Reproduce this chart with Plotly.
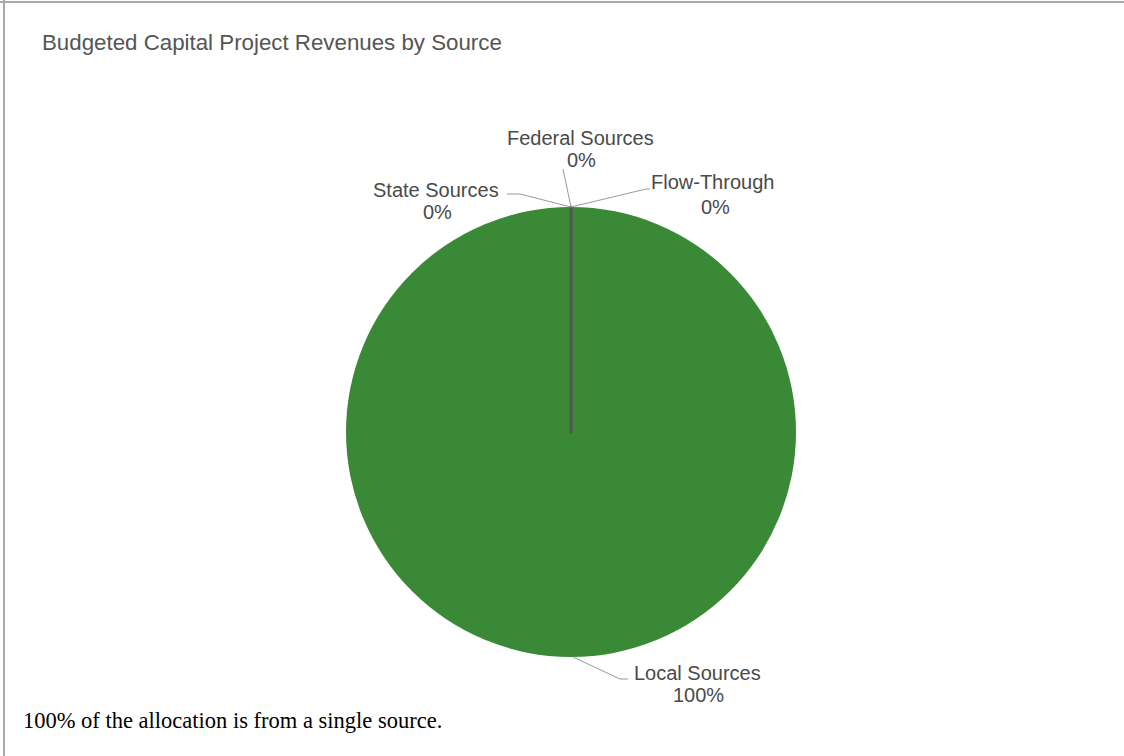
import plotly.graph_objects as go

# Revenue sources and their budgeted shares (percent)
sources = ["Local Sources", "State Sources", "Federal Sources", "Flow-Through"]
shares = [100, 0, 0, 0]
pct_labels = ["100%", "0%", "0%", "0%"]

title_text = "Budgeted Capital Project Revenues by Source"
footer_text = "100% of the allocation is from a single source."

W, H = 1124, 756
GREEN = "#3a8937"
LABEL_GRAY = "#4a4a4a"
LEADER_GRAY = "#9a9a9a"
SANS = "Liberation Sans, Arial, sans-serif"


def px(x, y):
    """Pixel position (from top-left) -> paper coordinates (margins are zero)."""
    return x / W, 1 - y / H


# pie occupies a 450 px square centred at (571, 432)
cx, cy, r = 571, 432, 225
x0, y0 = px(cx - r, cy + r)
x1, y1 = px(cx + r, cy - r)

fig = go.Figure(
    go.Pie(
        labels=sources,
        values=shares,
        sort=False,
        direction="clockwise",
        rotation=0,
        textinfo="none",
        hoverinfo="label+percent",
        marker=dict(
            colors=[GREEN, "#d9d9d9", "#d9d9d9", "#d9d9d9"],
            line=dict(color=[GREEN, "#555555", "#555555", "#555555"], width=[0, 2.5, 2.5, 2.5]),
        ),
        showlegend=False,
        domain=dict(x=[x0, x1], y=[y0, y1]),
    )
)

# label placement: (name centre, percent centre) in pixels
label_pos = {
    "Local Sources": ((697, 673), (698, 695)),
    "State Sources": ((436, 190), (437, 212)),
    "Federal Sources": ((580, 138), (581, 160)),
    "Flow-Through": ((712, 182), (715, 207)),
}

# leader line polylines in pixels
leaders = {
    "Local Sources": [(573, 657), (620, 679), (628, 679)],
    "State Sources": [(571, 207), (520, 194), (507, 194)],
    "Federal Sources": [(571, 207), (563, 169)],
    "Flow-Through": [(571, 207), (646, 189), (650, 189)],
}

annotations = []
shapes = []
for name, pct in zip(sources, pct_labels):
    (lx, ly), (qx, qy) = label_pos[name]
    for text, (tx, ty) in ((name, (lx, ly)), (pct, (qx, qy))):
        ax_, ay_ = px(tx, ty)
        annotations.append(dict(
            x=ax_, y=ay_, xref="paper", yref="paper", text=text, showarrow=False,
            xanchor="center", yanchor="middle",
            font=dict(family=SANS, size=20, color=LABEL_GRAY),
        ))
    pts = leaders[name]
    path = "M " + " L ".join(f"{px(a, b)[0]},{px(a, b)[1]}" for a, b in pts)
    shapes.append(dict(type="path", path=path, xref="paper", yref="paper",
                       line=dict(color=LEADER_GRAY, width=1)))

# title and footer note
tx, ty = px(40, 42)
annotations.append(dict(
    x=tx, y=ty, xref="paper", yref="paper", text=title_text, showarrow=False,
    xanchor="left", yanchor="middle",
    font=dict(family=SANS, size=22.3, color="#555555"),
))
fx, fy = px(21, 720)
annotations.append(dict(
    x=fx, y=fy, xref="paper", yref="paper", text=footer_text, showarrow=False,
    xanchor="left", yanchor="middle",
    font=dict(family="Liberation Serif, Times New Roman, serif", size=22.5, color="#000000"),
))

# frame along the top and left edges
bx, _ = px(4, 0)
_, by = px(0, 2)
shapes.append(dict(type="line", xref="paper", yref="paper", x0=bx, x1=bx, y0=0, y1=1,
                   line=dict(color="#a8a8a8", width=2)))
shapes.append(dict(type="line", xref="paper", yref="paper", x0=0, x1=1, y0=by, y1=by,
                   line=dict(color="#a8a8a8", width=2)))

fig.update_layout(
    width=W, height=H,
    margin=dict(l=0, r=0, t=0, b=0),
    paper_bgcolor="white",
    plot_bgcolor="white",
    annotations=annotations,
    shapes=shapes,
)

fig.write_html("out.html")
